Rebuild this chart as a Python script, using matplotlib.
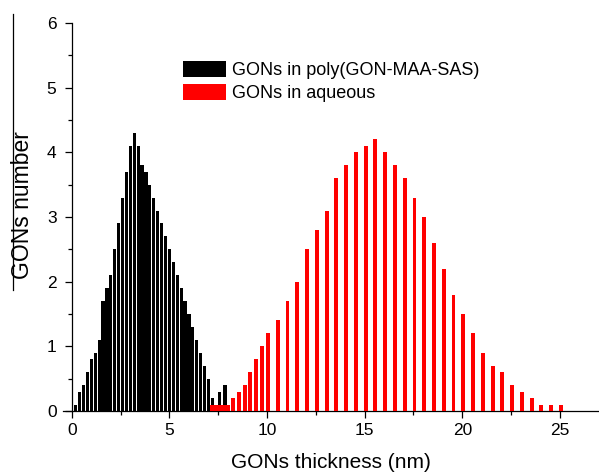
import matplotlib
matplotlib.use("Agg")
import matplotlib.pyplot as plt
from matplotlib.patches import Patch
from matplotlib.lines import Line2D
from matplotlib.ticker import MultipleLocator

plt.rcParams['font.family'] = ['Liberation Sans', 'DejaVu Sans']

# GONs in poly(GON-MAA-SAS)
black_x = [0.2, 0.4, 0.6, 0.8, 1.0, 1.2, 1.4, 1.6, 1.8, 2.0,
           2.2, 2.4, 2.6, 2.8, 3.0, 3.2, 3.4, 3.6, 3.8, 4.0,
           4.2, 4.4, 4.6, 4.8, 5.0, 5.2, 5.4, 5.6, 5.8, 6.0,
           6.2, 6.4, 6.6, 6.8, 7.0, 7.2, 7.55, 7.85]
black_y = [0.1, 0.3, 0.4, 0.6, 0.8, 0.9, 1.1, 1.7, 1.9, 2.1,
           2.5, 2.9, 3.3, 3.7, 4.1, 4.3, 4.1, 3.8, 3.7, 3.5,
           3.3, 3.1, 2.9, 2.7, 2.5, 2.3, 2.1, 1.9, 1.7, 1.5,
           1.3, 1.1, 0.9, 0.7, 0.5, 0.2, 0.3, 0.4]

# GONs in aqueous
red_x = [7.24, 7.58, 7.92, 8.25, 8.55, 8.85, 9.15, 9.45, 9.75, 10.05,
         10.55, 11.05, 11.55, 12.05, 12.55, 13.05, 13.55, 14.05, 14.55, 15.05,
         15.55, 16.05, 16.55, 17.05, 17.55, 18.05, 18.55, 19.05, 19.55, 20.05,
         20.55, 21.05, 21.55, 22.05, 22.55, 23.05, 23.55, 24.05, 24.55, 25.05]
red_y = [0.1, 0.1, 0.1, 0.2, 0.3, 0.4, 0.6, 0.8, 1.0, 1.2,
         1.4, 1.7, 2.0, 2.5, 2.8, 3.1, 3.6, 3.8, 4.0, 4.1,
         4.2, 4.0, 3.8, 3.6, 3.3, 3.0, 2.6, 2.2, 1.8, 1.5,
         1.2, 0.9, 0.7, 0.6, 0.4, 0.3, 0.2, 0.1, 0.1, 0.1]

labels = ['GONs in poly(GON-MAA-SAS)', 'GONs in aqueous']

W, H = 599, 474
fig = plt.figure(figsize=(W / 100, H / 100), dpi=100)
# axes box in pixels: x from 63 to 598, y from 23 to 411 (top-down)
ax = fig.add_axes([63 / W, 63 / H, (598 - 63) / W, (411 - 23) / H])

ax.bar(black_x, black_y, width=0.165, color='black', linewidth=0, zorder=2)
# the first three red bars sit next to each other
red_w = [0.34 if x < 8.1 else 0.2 for x in red_x]
ax.bar(red_x, red_y, width=red_w, color='#ff0000', linewidth=0, zorder=3)

ax.set_xlim(-0.45, 26.95)
ax.set_ylim(0, 6)
ax.spines['left'].set_position(('data', 0))
ax.spines['top'].set_visible(False)
ax.spines['right'].set_visible(False)
for s in ['left', 'bottom']:
    ax.spines[s].set_linewidth(0.9)

ax.set_xticks([0, 5, 10, 15, 20, 25])
ax.xaxis.set_minor_locator(MultipleLocator(2.5))
ax.yaxis.set_major_locator(MultipleLocator(1))
ax.yaxis.set_minor_locator(MultipleLocator(0.5))
ax.tick_params(which='major', direction='out', length=5, width=0.9, labelsize=12.5)
ax.tick_params(which='minor', direction='out', length=3, width=0.9)
ax.tick_params(axis='y', which='major', pad=6)

ax.set_xlabel('GONs thickness (nm)', fontsize=15, labelpad=11)
ax.set_ylabel('GONs number', fontsize=16.5)
# label centred near x=20 px, y=205 px of the image
ax.yaxis.set_label_coords((34 - 63) / 535, (411 - 205) / 388)

handles = [Patch(facecolor='black', edgecolor='none'),
           Patch(facecolor='#ff0000', edgecolor='none')]
ax.legend(handles, labels, loc='upper left', frameon=False,
          bbox_to_anchor=(183 / W, 1 - 61 / H), bbox_transform=fig.transFigure,
          fontsize=13, handlelength=2.4, handleheight=0.95, handletextpad=0.3,
          labelspacing=0.3, borderpad=0, borderaxespad=0)

# thin vertical line at the left edge of the original image
fig.add_artist(Line2D([12.7 / W, 12.7 / W], [1 - 14 / H, 1 - 290 / H],
                      color='black', linewidth=0.9))

fig.savefig('out.png', dpi=100)
